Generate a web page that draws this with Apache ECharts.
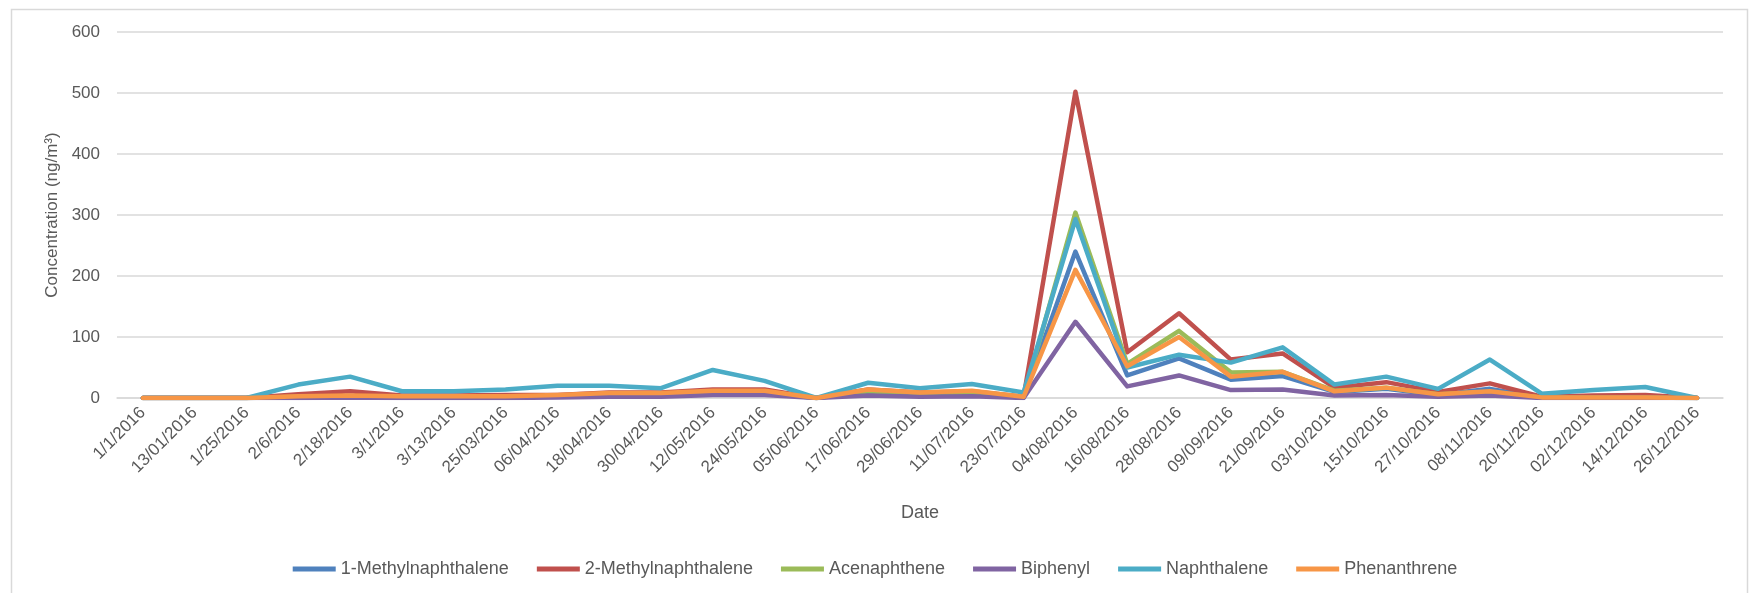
<!DOCTYPE html>
<html>
<head>
<meta charset="utf-8">
<script src="https://cdn.jsdelivr.net/npm/echarts@6/dist/echarts.min.js"></script>
<style>
  html, body { margin: 0; padding: 0; background: #ffffff; }
  #chart { width: 1750px; height: 593px; }
</style>
</head>
<body>
<div id="chart"></div>
<script>
const categories = ['1/1/2016','13/01/2016','1/25/2016','2/6/2016','2/18/2016','3/1/2016','3/13/2016','25/03/2016','06/04/2016','18/04/2016','30/04/2016','12/05/2016','24/05/2016','05/06/2016','17/06/2016','29/06/2016','11/07/2016','23/07/2016','04/08/2016','16/08/2016','28/08/2016','09/09/2016','21/09/2016','03/10/2016','15/10/2016','27/10/2016','08/11/2016','20/11/2016','02/12/2016','14/12/2016','26/12/2016'];

const methylnaphthalene1 = [0,0,0,2,3,2,2,2,3,5,4,8,8,0,9,5,7,1,240,37,65,30,36,10,15,5,15,1,1,1,0];
const methylnaphthalene2 = [0,0,0,6,11,4,4,5,5,9,9,14,14,0,14,9,11,2,502,75,139,63,73,17,26,10,24,2,4,5,0];
const acenaphthene       = [0,0,0,2,3,2,2,2,3,6,5,10,10,0,11,6,9,1,304,56,110,42,43,12,17,6,10,1,1,1,0];
const biphenyl           = [0,0,0,0,1,0,0,0,1,2,2,5,5,0,4,2,3,0,125,19,37,13,14,4,5,2,4,0,0,0,0];
const naphthalene        = [0,0,0,22,35,11,11,14,20,20,16,46,28,0,25,16,23,9,293,50,71,58,83,22,35,15,63,7,13,18,0];
const phenanthrene       = [0,0,0,3,4,3,3,3,5,8,8,12,12,0,14,9,12,2,210,52,100,35,43,11,17,6,11,1,1,1,0];

const seriesNames = ['1-Methylnaphthalene','2-Methylnaphthalene','Acenaphthene','Biphenyl','Naphthalene','Phenanthrene'];
const seriesData = [methylnaphthalene1, methylnaphthalene2, acenaphthene, biphenyl, naphthalene, phenanthrene];
const colors = ['#4F81BD','#C0504D','#9BBB59','#8064A2','#4BACC6','#F79646'];

const yAxisMin = 0, yAxisMax = 600, yAxisInterval = 100;
const yTitle = 'Concentration (ng/m\u00B3)';
const xTitle = 'Date';

const FONT = '"Liberation Sans", Arial, sans-serif';
const TXT = '#595959';

const chart = echarts.init(document.getElementById('chart'), null, { renderer: 'canvas' });
chart.setOption({
  animation: false,
  backgroundColor: '#ffffff',
  color: colors,
  graphic: [{
    type: 'rect',
    shape: { x: 11.5, y: 9.5, width: 1736, height: 620 },
    style: { fill: 'none', stroke: '#d9d9d9', lineWidth: 1.5 },
    silent: true
  }],
  grid: { left: 117, right: 27, top: 32, bottom: 195, containLabel: false },
  legend: {
    data: seriesNames,
    left: 'center',
    top: 555,
    icon: 'rect',
    itemWidth: 43,
    itemHeight: 5,
    itemGap: 28,
    textStyle: { color: TXT, fontSize: 18, fontFamily: FONT }
  },
  xAxis: {
    type: 'category',
    data: categories,
    boundaryGap: true,
    name: xTitle,
    nameLocation: 'middle',
    nameGap: 106,
    nameTextStyle: { color: TXT, fontSize: 18, fontFamily: FONT },
    axisLine: { show: true, lineStyle: { color: '#d9d9d9', width: 1.5 } },
    axisTick: { show: false },
    axisLabel: { interval: 0, rotate: 45, margin: 12, color: TXT, fontSize: 17, fontFamily: FONT }
  },
  yAxis: {
    type: 'value',
    min: yAxisMin,
    max: yAxisMax,
    interval: yAxisInterval,
    name: yTitle,
    nameLocation: 'middle',
    nameGap: 56,
    nameTextStyle: { color: TXT, fontSize: 17, fontFamily: FONT },
    axisLine: { show: false },
    axisTick: { show: false },
    axisLabel: { margin: 17, color: TXT, fontSize: 17, fontFamily: FONT },
    splitLine: { show: true, lineStyle: { color: '#d9d9d9', width: 1.5 } }
  },
  series: seriesNames.map((name, i) => ({
    name: name,
    type: 'line',
    data: seriesData[i],
    symbol: 'none',
    showSymbol: false,
    smooth: false,
    lineStyle: { width: 4.5, color: colors[i], cap: 'round', join: 'round' },
    itemStyle: { color: colors[i] },
    emphasis: { disabled: true }
  }))
});
</script>
</body>
</html>
